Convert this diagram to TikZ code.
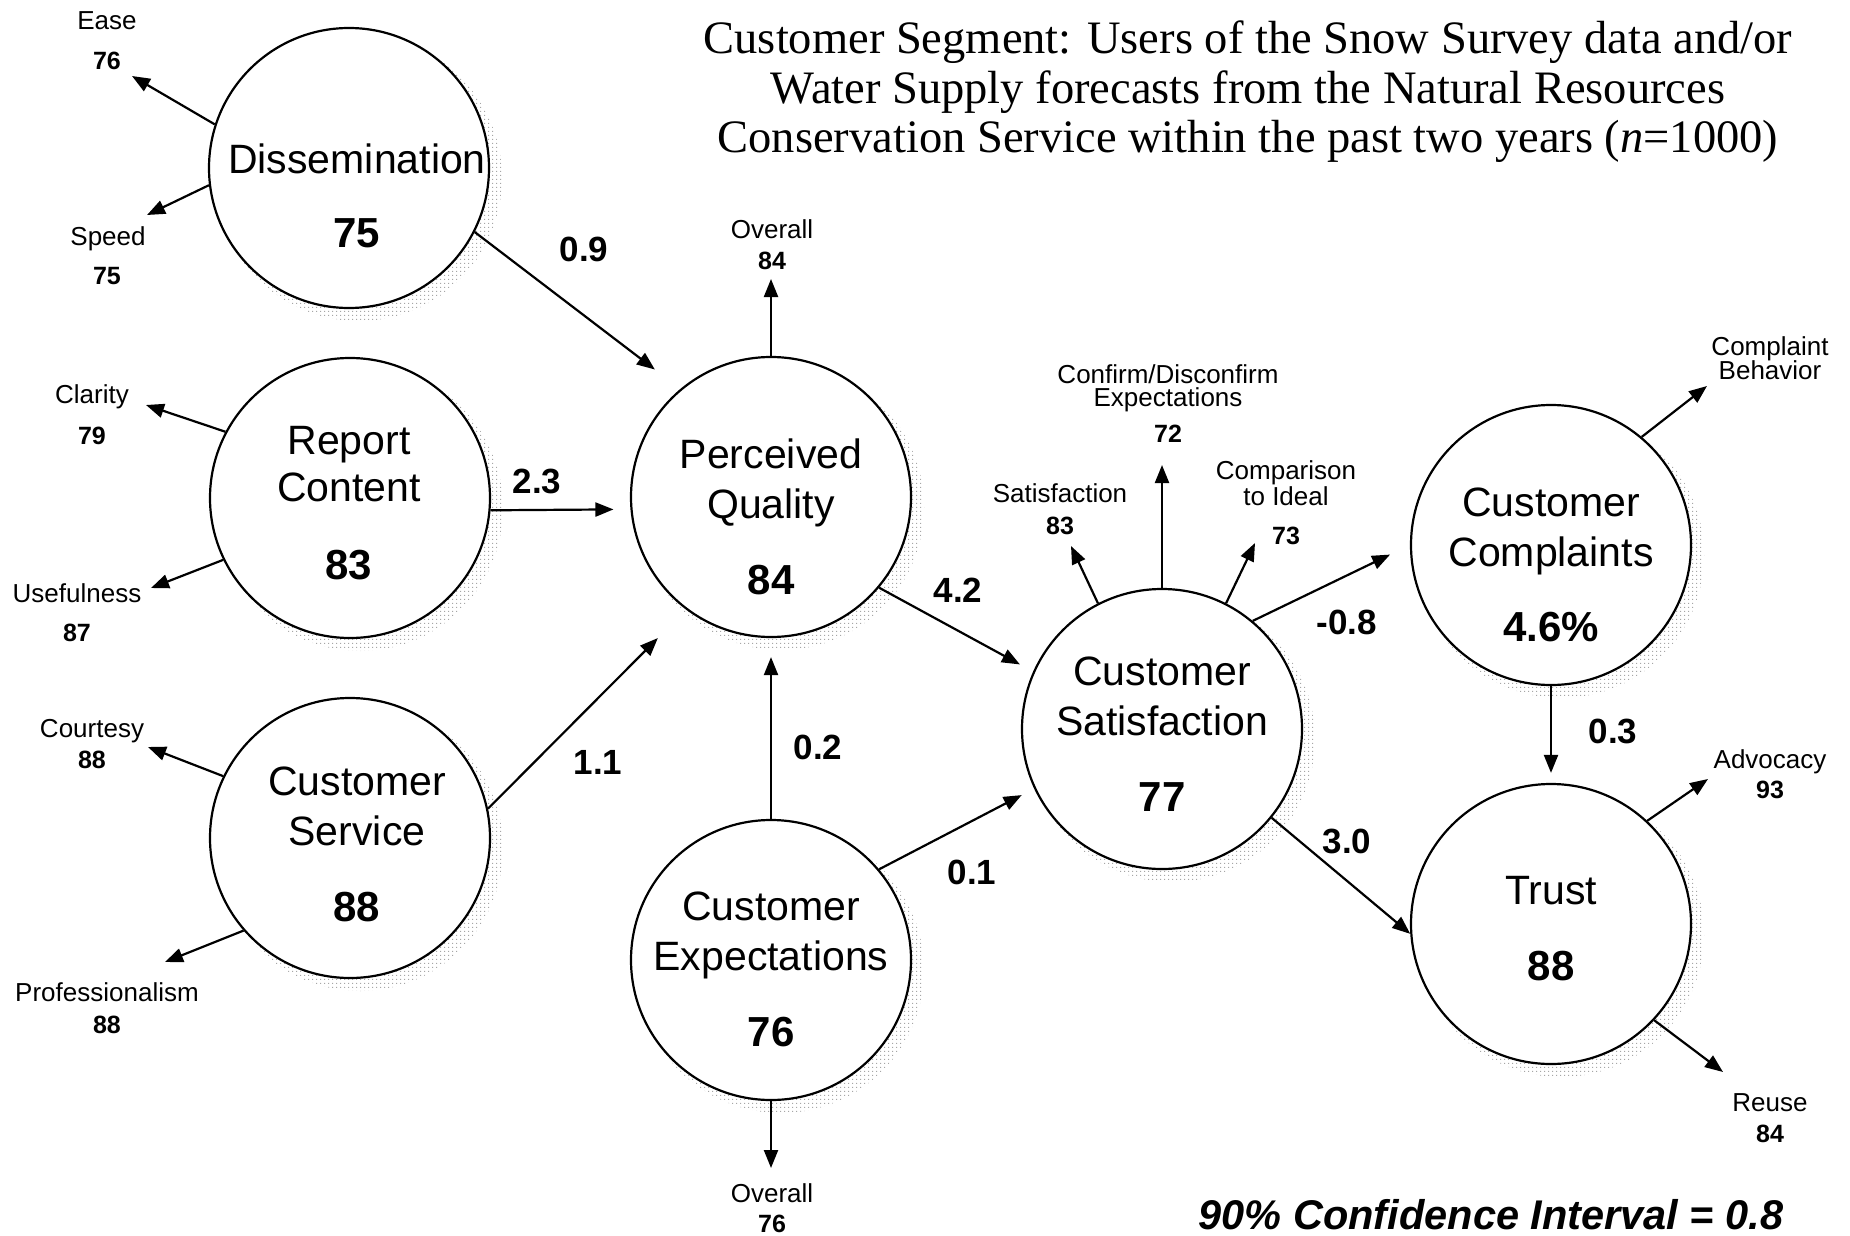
\documentclass[tikz,border=0pt]{standalone}
\usepackage{fontspec}
\setmainfont{Liberation Sans}
\newfontfamily\titlefont{Liberation Serif}
\usetikzlibrary{arrows.meta,patterns,calc}
\pgfdeclarepatternformonly{sdots}{\pgfpointorigin}{\pgfpoint{4pt}{4pt}}{\pgfpoint{4pt}{4pt}}{%
  \pgfpathrectangle{\pgfpointorigin}{\pgfpoint{1.4pt}{1.4pt}}\pgfusepath{fill}}
\tikzset{
  bubble/.style={circle, draw, line width=2.2pt, fill=white, minimum size=280pt, inner sep=0pt},
  shade/.style={pattern=sdots, pattern color=black!35},
  lab/.style={font=\fontsize{41}{48}\selectfont, inner sep=0pt, text height=29.5pt, text depth=0pt},
  num/.style={font=\fontsize{42}{48}\selectfont\bfseries, inner sep=0pt, text height=30pt, text depth=0pt},
  small/.style={font=\fontsize{26}{30}\selectfont, inner sep=0pt, text height=18.6pt, text depth=0pt},
  smallnum/.style={font=\fontsize{25}{30}\selectfont\bfseries, inner sep=0pt, text height=18pt, text depth=0pt},
  elab/.style={font=\fontsize{35}{40}\selectfont\bfseries, inner sep=0pt, text height=25pt, text depth=0pt},
  ttl/.style={font=\fontsize{46.5}{52}\selectfont\titlefont, inner sep=0pt, text height=30.8pt, text depth=0pt},
  conf/.style={font=\fontsize{41.5}{48}\selectfont\bfseries\itshape, inner sep=0pt, text height=29.7pt, text depth=0pt},
  arr/.style={line width=2.2pt, -{Triangle[length=18pt,width=14pt]}},
}
\begin{document}
\begin{tikzpicture}[x=1pt,y=-1pt]
\useasboundingbox (0,0) rectangle (1850,1236);
% shadows
\foreach \cx/\cy in {349/168, 350/498, 350/838, 771/497, 771/960, 1162/729, 1551/545, 1551/924}{
  \fill[shade] (\cx+10,\cy+10) circle[radius=143];
}
% circles
\node[bubble] (D) at (349,168) {};
\node[bubble] (RC) at (350,498) {};
\node[bubble] (CSv) at (350,838) {};
\node[bubble] (PQ) at (771,497) {};
\node[bubble] (CE) at (771,960) {};
\node[bubble] (CSat) at (1162,729) {};
\node[bubble] (CC) at (1551,545) {};
\node[bubble] (T) at (1551,924) {};
% circle texts
\node[lab] (tD) at (357,159) {Dissemination};
\node[num] (nD) at (357,232) {75};
\node[lab] (tRC1) at (349,440) {Report};
\node[lab] (tRC2) at (349,487) {Content};
\node[num] (nRC) at (349,564) {83};
\node[lab] (tCS1) at (357,781) {Customer};
\node[lab] (tCS2) at (357,831) {Service};
\node[num] (nCS) at (357,906) {88};
\node[lab] (tPQ1) at (771,454) {Perceived};
\node[lab] (tPQ2) at (771,504) {Quality};
\node[num] (nPQ) at (771,579) {84};
\node[lab] (tCE1) at (771,906) {Customer};
\node[lab] (tCE2) at (771,956) {Expectations};
\node[num] (nCE) at (771,1031) {76};
\node[lab] (tSat1) at (1162,671) {Customer};
\node[lab] (tSat2) at (1162,721) {Satisfaction};
\node[num] (nSat) at (1162,796) {77};
\node[lab] (tCC1) at (1551,502) {Customer};
\node[lab] (tCC2) at (1551,552) {Complaints};
\node[num] (nCC) at (1551,626) {4.6\%};
\node[lab] (tT) at (1551,890) {Trust};
\node[num] (nT) at (1551,965) {88};
% title
\node[ttl] (ti1) at (1248,38) {Customer Segment: Users of the Snow Survey data and/or};
\node[ttl] (ti2) at (1248,88) {Water Supply forecasts from the Natural Resources};
\node[ttl] (ti3) at (1248,137) {Conservation Service within the past two years (\textit{n}=1000)};
\node[conf] (ci) at (1491,1215) {90\% Confidence Interval = 0.8};
% indicator labels
\node[small] (lEase) at (107,20) {Ease};
\node[smallnum] (vEase) at (107,61) {76};
\node[small] (lSpeed) at (108,236) {Speed};
\node[smallnum] (vSpeed) at (107,275) {75};
\node[small] (lClar) at (92,394) {Clarity};
\node[smallnum] (vClar) at (92,435) {79};
\node[small] (lUse) at (77,593) {Usefulness};
\node[smallnum] (vUse) at (77,632) {87};
\node[small] (lCour) at (92,728) {Courtesy};
\node[smallnum] (vCour) at (92,759) {88};
\node[small] (lProf) at (107,992) {Professionalism};
\node[smallnum] (vProf) at (107,1024) {88};
\node[small] (lOvPQ) at (772,229) {Overall};
\node[smallnum] (vOvPQ) at (772,260) {84};
\node[small] (lOvCE) at (772,1193) {Overall};
\node[smallnum] (vOvCE) at (772,1223) {76};
\node[small] (lConf1) at (1168,374) {Confirm/Disconfirm};
\node[small] (lConf2) at (1168,397) {Expectations};
\node[smallnum] (vConf) at (1168,433) {72};
\node[small] (lSat) at (1060,493) {Satisfaction};
\node[smallnum] (vSat) at (1060,525) {83};
\node[small] (lComp1) at (1286,470) {Comparison};
\node[small] (lComp2) at (1286,496) {to Ideal};
\node[smallnum] (vComp) at (1286,535) {73};
\node[small] (lCB1) at (1770,346) {Complaint};
\node[small] (lCB2) at (1770,370) {Behavior};
\node[small] (lAdv) at (1770,759) {Advocacy};
\node[smallnum] (vAdv) at (1770,789) {93};
\node[small] (lReu) at (1770,1102) {Reuse};
\node[smallnum] (vReu) at (1770,1133) {84};
% edge labels
\node[elab] (e1) at (584,249) {0.9};
\node[elab] (e2) at (537,481) {2.3};
\node[elab] (e3) at (598,762) {1.1};
\node[elab] (e4) at (818,747) {0.2};
\node[elab] (e5) at (972,872) {0.1};
\node[elab] (e6) at (958,590) {4.2};
\node[elab] (e7) at (1347,622) {-0.8};
\node[elab] (e8) at (1613,731) {0.3};
\node[elab] (e9) at (1347,841) {3.0};
% free ends of indicator arrows
\coordinate (aEase) at (132,76);
\coordinate (aSpeed) at (147,215);
\coordinate (aClar) at (146,405);
\coordinate (aUse) at (151,588);
\coordinate (aCour) at (148,747);
\coordinate (aProf) at (165,962);
\coordinate (aOvPQ) at (771,279);
\coordinate (aOvCE) at (771,1168);
\coordinate (aSat) at (1071,546);
\coordinate (aConf) at (1162,465);
\coordinate (aComp) at (1255,543);
\coordinate (aCB) at (1707,386);
\coordinate (aAdv) at (1708,779);
\coordinate (aReu) at (1723,1072);
% indicator arrows
\draw[arr] (D.162) -- (aEase);
\draw[arr] (D.187) -- (aSpeed);
\draw[arr] (RC.152) -- (aClar);
\draw[arr] (RC.206) -- (aUse);
\draw[arr] (CSv.154) -- (aCour);
\draw[arr] (CSv.221) -- (aProf);
\draw[arr] (PQ.north) -- (aOvPQ);
\draw[arr] (CE.south) -- (aOvCE);
\draw[arr] (CSat.117) -- (aSat);
\draw[arr] (CSat.north) -- (aConf);
\draw[arr] (CSat.63) -- (aComp);
\draw[arr] (CC.50) -- (aCB);
\draw[arr] (T.47) -- (aAdv);
\draw[arr] (T.-43) -- (aReu);
% path arrows
\draw[arr, shorten >=32pt] (D.-27) -- (PQ.130);
\draw[arr, shorten >=17pt] (RC.-5) -- (PQ.185);
\draw[arr, shorten >=40pt] (CSv.12) -- (PQ.233);
\draw[arr, shorten >=19pt] (CE.north) -- (PQ.south);
\draw[arr, shorten >=14pt] (CE.40) -- (CSat.205);
\draw[arr, shorten >=15pt] (PQ.-40) -- (CSat.156);
\draw[arr, shorten >=22pt] (CSat.50) -- (CC.180);
\draw[arr, shorten >=10pt] (CC.south) -- (T.north);
\draw[arr] (CSat.-39) -- (T.184);
\end{tikzpicture}
\end{document}
